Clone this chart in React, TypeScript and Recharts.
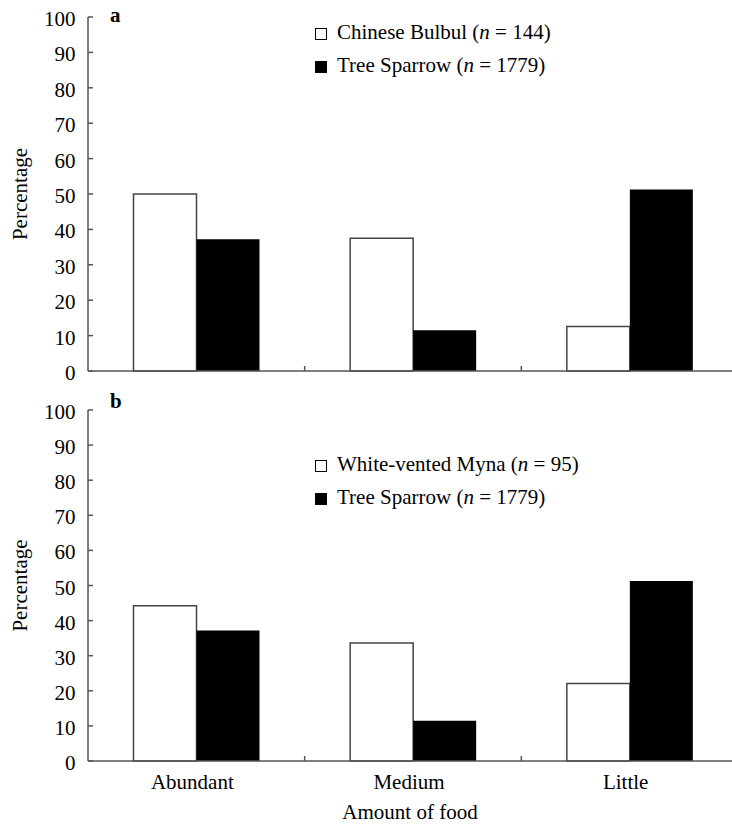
import React from 'react';
import { BarChart, Bar, XAxis, YAxis } from 'recharts';

// amount of food offered at the feeding site
const categories = ['Abundant', 'Medium', 'Little'];
const yTicks = [0, 10, 20, 30, 40, 50, 60, 70, 80, 90, 100];

// percentage of visits
const bulbulPct = [50.0, 37.5, 12.6];
const mynaPct = [44.2, 33.6, 22.1];
const sparrowPct = [37.2, 11.5, 51.3];

const bulbul = { name: 'Chinese Bulbul', n: 144 };
const myna = { name: 'White-vented Myna', n: 95 };
const sparrow = { name: 'Tree Sparrow', n: 1779 };

const FONT = '"Liberation Serif", "Times New Roman", serif';
const FS = 21;
const AXIS = '#555';
const CHART_W = 738; // right end of the axis runs past the page edge
const Y_W = 88;
const BAND = (CHART_W - Y_W) / categories.length;

const buildRows = (other: number[]) =>
  categories.map((cat, i) => ({ cat, other: other[i], sparrow: sparrowPct[i] }));

const dataA = buildRows(bulbulPct);
const dataB = buildRows(mynaPct);

function XTick({ x, y, payload, index, showLabels }: any) {
  const edge = x - BAND / 2;
  return (
    <g>
      {index > 0 && <line x1={edge} x2={edge} y1={y} y2={y - 5} stroke={AXIS} strokeWidth={1.5} />}
      {showLabels && (
        <text x={x - 4} y={y + 28} textAnchor="middle" fill="#000" fontSize={FS} fontFamily={FONT}>
          {payload.value}
        </text>
      )}
    </g>
  );
}

function YTick({ x, y, payload }: any) {
  return (
    <g>
      <line x1={x} x2={x + 5} y1={y} y2={y} stroke={AXIS} strokeWidth={1.5} />
      <text x={x - 12.5} y={y} dy="0.43em" textAnchor="end" fill="#000" fontSize={FS} fontFamily={FONT}>
        {payload.value}
      </text>
    </g>
  );
}

function LegendRow({ baseline, filled, sp }: { baseline: number; filled: boolean; sp: { name: string; n: number } }) {
  return (
    <>
      <div
        style={{
          position: 'absolute', left: 315, top: baseline - 12.5, width: 12, height: 12,
          boxSizing: 'border-box', border: '1.5px solid #000', background: filled ? '#000' : '#fff',
        }}
      />
      <div
        style={{
          position: 'absolute', left: 337, top: baseline - 17.6, fontSize: FS, lineHeight: FS + 'px',
          whiteSpace: 'nowrap', color: '#000',
        }}
      >
        {sp.name} (<span style={{ fontStyle: 'italic' }}>n</span> = {sp.n})
      </div>
    </>
  );
}

interface PanelProps {
  data: any[];
  other: { name: string; n: number };
  letter: string;
  top: number;
  height: number;
  marginTop: number;
  xHeight: number;
  showLabels: boolean;
  letterBase: number;
  legendBase: number;
}

function Panel({ data, other, letter, top, height, marginTop, xHeight, showLabels, letterBase, legendBase }: PanelProps) {
  return (
    <div style={{ position: 'absolute', left: 0, top, width: CHART_W, height }}>
      <BarChart
        width={CHART_W}
        height={height}
        data={data}
        margin={{ top: marginTop, right: 0, bottom: 0, left: 0 }}
        barCategoryGap="21%"
        barGap={0}
      >
        <XAxis
          dataKey="cat"
          height={xHeight}
          interval={0}
          axisLine={{ stroke: AXIS, strokeWidth: 1.5 }}
          tickLine={false}
          tickSize={0}
          tickMargin={0}
          tick={(p: any) => <XTick {...p} showLabels={showLabels} />}
          label={
            showLabels
              ? { value: 'Amount of food', position: 'insideBottom', offset: 6, dx: -3, fill: '#000', style: { fontSize: FS, fontFamily: FONT } }
              : undefined
          }
        />
        <YAxis
          type="number"
          width={Y_W}
          domain={[0, 100]}
          ticks={yTicks}
          interval={0}
          axisLine={{ stroke: AXIS, strokeWidth: 1.5 }}
          tickLine={false}
          tickSize={0}
          tickMargin={0}
          tick={(p: any) => <YTick {...p} />}
          label={{
            value: 'Percentage', angle: -90, position: 'insideLeft', offset: 20, fill: '#000',
            style: { textAnchor: 'middle', fontSize: FS, fontFamily: FONT },
          }}
        />
        <Bar dataKey="other" fill="#fff" stroke="#444" strokeWidth={1.5} isAnimationActive={false} />
        <Bar dataKey="sparrow" fill="#000" isAnimationActive={false} />
      </BarChart>
      <div
        style={{
          position: 'absolute', left: 110, top: letterBase - 17.6, fontSize: FS, lineHeight: FS + 'px',
          fontWeight: 'bold', color: '#000',
        }}
      >
        {letter}
      </div>
      <LegendRow baseline={legendBase} filled={false} sp={other} />
      <LegendRow baseline={legendBase + 33} filled={true} sp={sparrow} />
    </div>
  );
}

export default function App() {
  return (
    <div
      style={{
        position: 'absolute', left: 0, top: 0, width: 732, height: 825, overflow: 'hidden',
        background: '#fff', fontFamily: FONT,
      }}
    >
      <Panel data={dataA} other={bulbul} letter="a" top={0} height={395} marginTop={17} xHeight={24}
        showLabels={false} letterBase={23} legendBase={40} />
      <Panel data={dataB} other={myna} letter="b" top={395} height={430} marginTop={15} xHeight={64}
        showLabels={true} letterBase={14} legendBase={77} />
    </div>
  );
}
